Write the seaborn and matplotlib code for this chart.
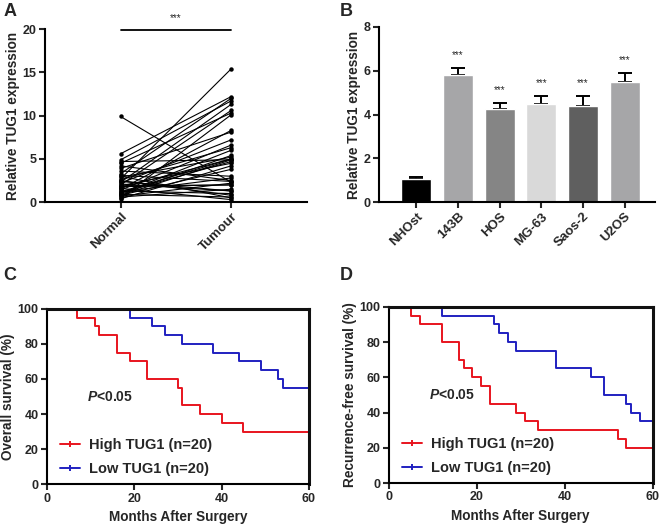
import pandas as pd
import matplotlib
matplotlib.use("Agg")
import matplotlib.pyplot as plt
from matplotlib.lines import Line2D
import seaborn as sns

sns.set_style("ticks")
plt.rcParams.update({
    "font.family": ["Liberation Sans", "DejaVu Sans"],
    "font.weight": "bold",
    "axes.labelweight": "bold",
    "font.size": 9,
    "axes.labelsize": 9.8,
    "xtick.labelsize": 9,
    "ytick.labelsize": 9,
    "axes.linewidth": 1.5,
    "axes.edgecolor": "black",
    "xtick.major.width": 1.5,
    "ytick.major.width": 1.5,
    "xtick.major.size": 4,
    "ytick.major.size": 4,
    "xtick.major.pad": 2,
    "ytick.major.pad": 2,
    "axes.labelpad": 2,
    "mathtext.fontset": "custom",
    "mathtext.bfit": "Liberation Sans:bold:italic",
    "mathtext.it": "Liberation Sans:italic",
    "mathtext.rm": "Liberation Sans",
})

# ---- Panel A: paired tissue expression
normal = [9.9, 5.6, 4.9, 4.7, 4.5, 4.2, 3.9, 3.6, 3.3, 3.0, 2.9, 2.7, 2.6, 2.4,
          2.3, 2.2, 2.0, 1.9, 1.8, 1.7, 1.6, 1.5, 1.4, 1.3, 1.2, 1.1, 1.0, 0.9,
          0.8, 0.7, 0.6, 0.5, 0.4, 2.5, 3.1, 1.2, 0.8, 2.1, 1.9, 0.9]
tumour = [2.3, 12.2, 11.7, 4.9, 10.3, 2.5, 8.1, 3.0, 12.0, 0.5, 5.2, 15.4, 6.3,
          1.3, 11.3, 7.2, 10.6, 4.5, 2.0, 5.0, 0.3, 8.3, 6.6, 1.0, 2.8, 4.7,
          6.0, 5.4, 3.8, 2.2, 1.5, 10.1, 4.2, 0.8, 2.4, 5.0, 4.9, 1.3, 2.0, 0.6]
tissue_groups = ["Normal", "Tumour"]

# ---- Panel B: cell lines
cell_lines = ["NHOst", "143B", "HOS", "MG-63", "Saos-2", "U2OS"]
cell_means = [1.05, 5.82, 4.25, 4.48, 4.40, 5.48]
cell_sem = [0.08, 0.32, 0.28, 0.36, 0.44, 0.44]
cell_colors = ["#000000", "#a6a6a8", "#858585", "#d9d9d9", "#5f5f5f", "#a6a6a8"]

# ---- Panel C: overall survival (step curves, %)
os_high_t = [0, 7, 11, 12, 16, 19, 23, 30, 31, 35, 40, 45, 60]
os_high_s = [100, 95, 90, 85, 75, 70, 60, 55, 45, 40, 35, 30, 30]
os_low_t = [0, 19, 24, 27, 31, 38, 44, 49, 53, 54, 60]
os_low_s = [100, 95, 90, 85, 80, 75, 70, 65, 60, 55, 55]

# ---- Panel D: recurrence-free survival (%)
rfs_high_t = [0, 5, 7, 12, 16, 17, 19, 21, 23, 29, 31, 34, 52, 54, 60]
rfs_high_s = [100, 95, 90, 80, 70, 65, 60, 55, 45, 40, 35, 30, 25, 20, 20]
rfs_low_t = [0, 12, 24, 25, 27, 29, 38, 46, 49, 54, 55, 57, 60]
rfs_low_s = [100, 95, 90, 85, 80, 75, 65, 60, 50, 45, 40, 35, 35]

RED = "#e8141e"
BLUE = "#2020c0"

fig = plt.figure(figsize=(6.6, 5.28), dpi=100)
axA = fig.add_axes([0.068, 0.617, 0.397, 0.328])
axB = fig.add_axes([0.574, 0.617, 0.418, 0.332])
axC = fig.add_axes([0.071, 0.083, 0.397, 0.332])
axD = fig.add_axes([0.589, 0.085, 0.400, 0.334])

# Panel A
pairs = pd.DataFrame({
    "pair": list(range(len(normal))) * 2,
    "group": [tissue_groups[0]] * len(normal) + [tissue_groups[1]] * len(tumour),
    "value": normal + tumour,
})
sns.lineplot(data=pairs, x="group", y="value", units="pair", estimator=None,
             color="black", lw=0.8, marker="o", markersize=3.2,
             markeredgewidth=0, ax=axA)
axA.set_xlim(-0.685, 1.685)
axA.set_ylim(0, 20)
axA.set_yticks([0, 5, 10, 15, 20])
axA.set_xlabel("")
axA.set_ylabel("Relative TUG1 expression")
axA.spines["top"].set_visible(False)
axA.spines["right"].set_visible(False)
axA.tick_params(axis="x", labelsize=9.5)
plt.setp(axA.get_xticklabels(), rotation=45, ha="right", rotation_mode="anchor")
axA.plot([0, 1], [19.85, 19.85], color="black", lw=1.3, clip_on=False)
axA.text(0.5, 20.7, "***", ha="center", va="bottom", fontsize=7, fontweight="normal")

# Panel B
bars = pd.DataFrame({"line": cell_lines, "mean": cell_means})
sns.barplot(data=bars, x="line", y="mean", hue="line", palette=cell_colors,
            width=0.72, legend=False, ax=axB, zorder=2)
axB.errorbar(range(len(cell_lines)), cell_means,
             yerr=[[0] * len(cell_sem), cell_sem], fmt="none",
             ecolor="black", elinewidth=1.4, capsize=4.8, capthick=1.4, zorder=1)
for i, (m, e) in enumerate(zip(cell_means, cell_sem)):
    if i > 0:
        axB.text(i, m + e + 0.35, "***", ha="center", va="bottom",
                 fontsize=7, fontweight="normal")
axB.set_xlim(-0.9, 5.72)
axB.set_ylim(0, 8)
axB.set_yticks([0, 2, 4, 6, 8])
axB.set_xlabel("")
axB.set_ylabel("Relative TUG1 expression")
axB.spines["top"].set_visible(False)
axB.spines["right"].set_visible(False)
axB.tick_params(axis="x", labelsize=9.5)
plt.setp(axB.get_xticklabels(), rotation=45, ha="right", rotation_mode="anchor")


def km_panel(ax, ht, hs, lt, ls, ylabel):
    surv = pd.DataFrame({
        "t": ht + lt,
        "s": hs + ls,
        "grp": ["High TUG1 (n=20)"] * len(ht) + ["Low TUG1 (n=20)"] * len(lt),
    })
    sns.lineplot(data=surv, x="t", y="s", hue="grp", estimator=None,
                 palette=[RED, BLUE], drawstyle="steps-post", lw=1.4,
                 legend=False, ax=ax)
    for t, s, c in [(ht[-1], hs[-1], RED), (lt[-1], ls[-1], BLUE)]:
        ax.plot([t], [s], marker="|", color=c, markersize=5, mew=1.4, clip_on=False)
    ax.set_xlim(0, 60)
    ax.set_ylim(0, 100)
    ax.set_xticks([0, 20, 40, 60])
    ax.set_yticks([0, 20, 40, 60, 80, 100])
    ax.set_xlabel("Months After Surgery", labelpad=4)
    ax.set_ylabel(ylabel)
    ax.text(9.2, 50, r"$\bfit{P}$<0.05", fontsize=10, fontweight="bold",
            ha="left", va="center")
    handles = [Line2D([], [], color=RED, lw=1.4, marker="|", markersize=5, mew=1.4),
               Line2D([], [], color=BLUE, lw=1.4, marker="|", markersize=5, mew=1.4)]
    ax.legend(handles, ["High TUG1 (n=20)", "Low TUG1 (n=20)"], loc="lower left",
              bbox_to_anchor=(0.0, -0.03), frameon=False,
              handlelength=1.4, handletextpad=0.6, labelspacing=0.7,
              prop={"weight": "bold", "size": 10.5})
    # closed frame: top and right spines drawn a touch heavier
    for side in ("top", "right"):
        ax.spines[side].set_visible(True)
        ax.spines[side].set_linewidth(2.2)
        ax.spines[side].set_color("#111111")


km_panel(axC, os_high_t, os_high_s, os_low_t, os_low_s, "Overall survival (%)")
km_panel(axD, rfs_high_t, rfs_high_s, rfs_low_t, rfs_low_s, "Recurrence-free survival (%)")

for lab, (x, y) in zip("ABCD", [(0.005, 0.995), (0.515, 0.995), (0.005, 0.495), (0.515, 0.495)]):
    fig.text(x, y, lab, fontsize=13, fontweight="bold", ha="left", va="top")

fig.savefig("out.png", dpi=100)
